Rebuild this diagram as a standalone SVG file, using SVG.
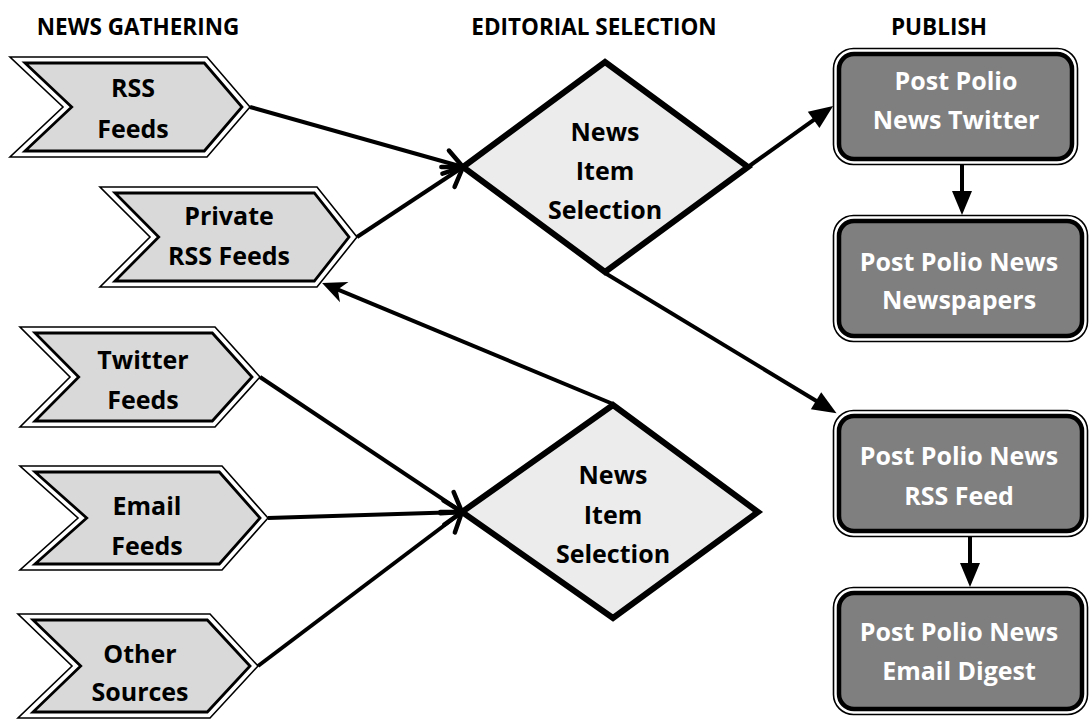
<svg xmlns="http://www.w3.org/2000/svg" width="1091" height="719" viewBox="0 0 1091 719">
<style>
text{font-family:"Open Sans","Liberation Sans",Arial,sans-serif;font-weight:bold;text-anchor:middle}
.hdr{font-size:22.5px;fill:#000}
.lbl{font-size:25px;fill:#000}
.wlbl{font-size:25px;fill:#fff}
.chevO{fill:#fff;stroke:#000;stroke-width:1.6;stroke-linejoin:miter}
.chevI{fill:#d9d9d9;stroke:#000;stroke-width:2.8;stroke-linejoin:miter}
.dia{fill:#ececec;stroke:#000;stroke-width:6;stroke-linejoin:miter}
.boxO{fill:#fff;stroke:#000;stroke-width:1.6}
.boxI{fill:#7f7f7f;stroke:#000;stroke-width:4.5}
.conn{fill:none;stroke:#000;stroke-width:4}
</style>
<defs>
<marker id="open" markerUnits="userSpaceOnUse" viewBox="-22 -15 26 30" refX="0" refY="0" markerWidth="26" markerHeight="30" orient="auto" overflow="visible">
<path d="M-18,-12 L0,0 L-18,12" fill="none" stroke="#000" stroke-width="4.5" stroke-linecap="round" stroke-linejoin="miter"/>
</marker>
<marker id="fill" markerUnits="userSpaceOnUse" viewBox="-16 -12 28 24" refX="0" refY="0" markerWidth="28" markerHeight="24" orient="auto" overflow="visible">
<path d="M10,0 L-14,-10 L-14,10 Z" fill="#000"/>
</marker>
<marker id="stealth" markerUnits="userSpaceOnUse" viewBox="-12 -13 28 26" refX="0" refY="0" markerWidth="28" markerHeight="26" orient="auto" overflow="visible">
<path d="M14,0 L-10,-11 L-3,0 L-10,11 Z" fill="#000"/>
</marker>
</defs>

<g id="headers">
<text class="hdr" x="138" y="35">NEWS GATHERING</text>
<text class="hdr" x="594" y="35">EDITORIAL SELECTION</text>
<text class="hdr" x="939" y="35">PUBLISH</text>
</g>

<g id="connectors">
<line class="conn" x1="250" y1="107" x2="463" y2="167" marker-end="url(#open)"/>
<line class="conn" x1="357" y1="237" x2="463" y2="167" marker-end="url(#open)"/>
<line class="conn" x1="260" y1="377" x2="462" y2="512" marker-end="url(#open)"/>
<line class="conn" x1="268" y1="518" x2="462" y2="512" marker-end="url(#open)"/>
<line class="conn" x1="258" y1="666" x2="462" y2="512" marker-end="url(#open)"/>
<line class="conn" x1="748" y1="167" x2="825" y2="111.8" marker-end="url(#fill)"/>
<line class="conn" x1="605" y1="273" x2="828" y2="408" marker-end="url(#fill)"/>
<line class="conn" x1="613" y1="404" x2="335" y2="288.3" marker-end="url(#stealth)"/>
<line class="conn" x1="962" y1="165" x2="962" y2="205" marker-end="url(#fill)"/>
<line class="conn" x1="970" y1="537" x2="970" y2="577" marker-end="url(#fill)"/>
</g>

<g id="rss-feeds">
<polygon class="chevO" points="10,57 207,57 250,107 207,157 10,157 63,107"/>
<polygon class="chevI" points="25,63 204.3,63 242,107 204.3,151 25,151 71.7,107"/>
<text class="lbl" x="133" y="97">RSS</text>
<text class="lbl" x="133" y="138">Feeds</text>
</g>

<g id="private-rss-feeds">
<polygon class="chevO" points="100,187 317,187 357,237 317,287 100,287 150,237"/>
<polygon class="chevI" points="115,193 314.3,193 349,237 314.3,281 115,281 158.7,237"/>
<text class="lbl" x="229" y="225">Private</text>
<text class="lbl" x="229" y="265">RSS Feeds</text>
</g>

<g id="twitter-feeds">
<polygon class="chevO" points="20,327 215,327 260,377 215,427 20,427 70,377"/>
<polygon class="chevI" points="35,333 212.3,333 252,377 212.3,421 35,421 78.7,377"/>
<text class="lbl" x="143" y="369">Twitter</text>
<text class="lbl" x="143" y="409">Feeds</text>
</g>

<g id="email-feeds">
<polygon class="chevO" points="20,466 222,466 268,518 222,570 20,570 78,518"/>
<polygon class="chevI" points="35,472 219.3,472 260,518 219.3,564 35,564 86.7,518"/>
<text class="lbl" x="147" y="515">Email</text>
<text class="lbl" x="147" y="555">Feeds</text>
</g>

<g id="other-sources">
<polygon class="chevO" points="18,614 210,614 258,666 210,718 18,718 72,666"/>
<polygon class="chevI" points="33,620 207.3,620 250,666 207.3,712 33,712 80.7,666"/>
<text class="lbl" x="140" y="663">Other</text>
<text class="lbl" x="140" y="701">Sources</text>
</g>

<g id="news-item-selection-1">
<polygon class="dia" points="605,62 748,167 605,272 463,167"/>
<text class="lbl" x="605" y="141">News</text>
<text class="lbl" x="605" y="180">Item</text>
<text class="lbl" x="605" y="219">Selection</text>
</g>

<g id="news-item-selection-2">
<polygon class="dia" points="613,405 758,512 613,618 462,512"/>
<text class="lbl" x="613" y="484">News</text>
<text class="lbl" x="613" y="524">Item</text>
<text class="lbl" x="613" y="563">Selection</text>
</g>

<g id="pp-news-twitter">
<rect class="boxO" x="833.5" y="48.5" width="244" height="116" rx="20"/>
<rect class="boxI" x="839" y="54" width="233" height="105" rx="15"/>
<text class="wlbl" x="956" y="90">Post Polio</text>
<text class="wlbl" x="956" y="129">News Twitter</text>
</g>

<g id="pp-news-newspapers">
<rect class="boxO" x="833.5" y="215.5" width="254" height="126" rx="20"/>
<rect class="boxI" x="839" y="221" width="243" height="115" rx="15"/>
<text class="wlbl" x="959" y="271">Post Polio News</text>
<text class="wlbl" x="959" y="309">Newspapers</text>
</g>

<g id="pp-news-rss-feed">
<rect class="boxO" x="833.5" y="410.5" width="254" height="126" rx="20"/>
<rect class="boxI" x="839" y="416" width="243" height="115" rx="15"/>
<text class="wlbl" x="959" y="465">Post Polio News</text>
<text class="wlbl" x="959" y="505">RSS Feed</text>
</g>

<g id="pp-news-email-digest">
<rect class="boxO" x="833.5" y="587.5" width="254" height="127" rx="20"/>
<rect class="boxI" x="839" y="593" width="243" height="116" rx="15"/>
<text class="wlbl" x="959" y="641">Post Polio News</text>
<text class="wlbl" x="959" y="680">Email Digest</text>
</g>
</svg>
